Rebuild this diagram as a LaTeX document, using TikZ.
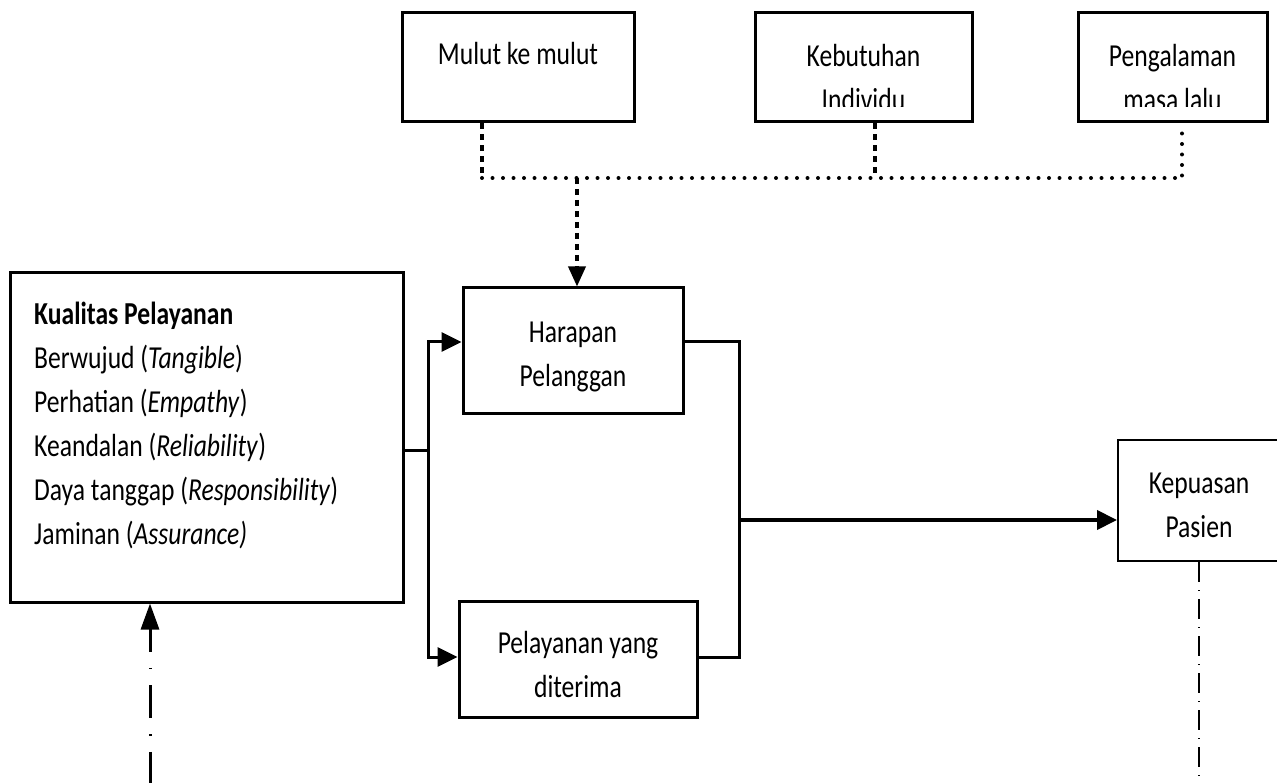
\documentclass[tikz,border=0pt]{standalone}
\usepackage{fontspec}
\setmainfont{Carlito}[FakeStretch=0.8]
\usetikzlibrary{arrows.meta}
\tikzset{
  box/.style={draw, rectangle, line width=3pt, inner sep=0pt},
  txt/.style={font=\fontsize{32}{44}\selectfont, align=center, inner sep=0pt},
  conn/.style={line width=3pt},
  arr/.style={conn, -{Triangle[length=20pt,width=19pt]}},
  sqdot/.style={line width=3.5pt, dash pattern=on 6pt off 5pt},
  rnddot/.style={line width=4pt, line cap=round, dash pattern=on 0pt off 10.5pt},
  dashdotA/.style={line width=3pt, dash pattern=on 33pt off 16pt on 1.5pt off 16pt, dash phase=10pt},
  dashdotB/.style={line width=1.2pt, dash pattern=on 20pt off 8pt on 1pt off 8pt}
}
\begin{document}
\begin{tikzpicture}[x=1pt,y=-1pt]
  \useasboundingbox (0,0) rectangle (1277,783);

  % top boxes
  \node[box, minimum width=232pt, minimum height=109pt] (mulut) at (518,67.5) {};
  \node[box, minimum width=217pt, minimum height=109pt] (kebutuhan) at (863.5,67.5) {};
  \node[box, minimum width=189pt, minimum height=109pt] (pengalaman) at (1172.5,67.5) {};
  \node[txt, anchor=base] (mulutTxt) at (518,65) {Mulut ke mulut};
  \begin{scope}
    \clip (kebutuhan.north west) rectangle ([yshift=17pt]kebutuhan.south east);
    \node[txt, anchor=base] (kebutuhanTxt) at (863.5,111) {Kebutuhan\\Individu};
  \end{scope}
  \begin{scope}
    \clip (pengalaman.north west) rectangle ([yshift=17pt]pengalaman.south east);
    \node[txt, anchor=base] (pengalamanTxt) at (1172.5,111) {Pengalaman\\masa lalu};
  \end{scope}

  % middle and right boxes
  \node[box, minimum width=393pt, minimum height=329pt] (kualitas) at (206.5,437.5) {};
  \node[txt, align=left, anchor=base west] (kualitasTxt) at (34,544)
    {\textbf{Kualitas Pelayanan}\\
     Berwujud (\textit{Tangible})\\
     Perhatian (\textit{Empathy})\\
     Keandalan (\textit{Reliability})\\
     Daya tanggap (\textit{Responsibility})\\
     Jaminan (\textit{Assurance)}};
  \node[box, minimum width=220pt, minimum height=125pt] (harapan) at (573,350.5) {};
  \node[txt, anchor=base] (harapanTxt) at (573,387) {Harapan\\Pelanggan};
  \node[box, minimum width=238pt, minimum height=116pt] (pelayanan) at (578,659) {};
  \node[txt, anchor=base] (pelayananTxt) at (578,697) {Pelayanan yang\\diterima};
  \node[box, line width=2pt, minimum width=162pt, minimum height=121pt] (kepuasan) at (1199,500.5) {};
  \node[txt, anchor=base] (kepuasanTxt) at (1199,537) {Kepuasan\\Pasien};

  % dotted feeders
  \coordinate (jM) at (482,178);
  \coordinate (jH) at (577,178);
  \coordinate (jK) at (875,178);
  \coordinate (jP) at (1182,178);
  \draw[sqdot] (mulut.south -| jM) -- (jM);
  \draw[sqdot] (kebutuhan.south -| jK) -- (jK);
  \draw[rnddot] ([yshift=-10pt]pengalaman.south -| jP) -- (jP);
  \draw[rnddot] (jM) -- (jP);
  \draw[sqdot, -{Triangle[length=20pt,width=17pt]}] (jH) -- (harapan.north -| jH);

  % solid connectors
  \coordinate (split) at (428,450);
  \coordinate (merge) at (739,520);
  \draw[conn] (kualitas.east |- split) -- (split);
  \draw[arr] (split) |- ([yshift=8.5pt]harapan.west);
  \draw[arr] (split) |- ([yshift=2pt]pelayanan.west);
  \draw[conn] ([yshift=8.5pt]harapan.east) -| (merge) |- ([yshift=2pt]pelayanan.east);
  \draw[arr, line width=4pt] (merge) -- (kepuasan.west |- merge);

  % dash-dot lines at the bottom
  \coordinate (bottomL) at (150,790);
  \coordinate (bottomR) at (1199,790);
  \draw[dashdotA, {Triangle[length=26pt,width=18pt]}-] (kualitas.south -| bottomL) -- (bottomL);
  \draw[dashdotB] (kepuasan.south) -- (bottomR);
\end{tikzpicture}
\end{document}
